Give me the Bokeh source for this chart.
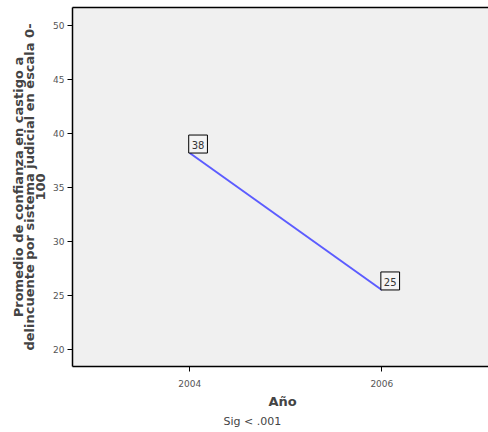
from bokeh.plotting import figure
from bokeh.models import ColumnDataSource, Label, LinearAxis, Title, FixedTicker, Range1d
from bokeh.embed import file_html
from bokeh.resources import INLINE

years = [2004, 2006]
values = [38.2, 25.5]
value_labels = ["38", "25"]
y_ticks = [20, 25, 30, 35, 40, 45, 50]
x_ticks = [2004, 2006]

src = ColumnDataSource(dict(x=years, y=values, t=value_labels))

p = figure(width=488, height=432, output_backend="svg", toolbar_location=None,
           x_range=Range1d(2002.78, 2007.11), y_range=Range1d(18.4, 51.7),
           min_border_left=72, min_border_right=0, min_border_top=7, min_border_bottom=66)
p.background_fill_color = "#f0f0f0"
p.border_fill_color = "white"
p.outline_line_color = None
p.grid.visible = False

p.line("x", "y", source=src, line_color="#5c5cff", line_width=2)
for xv, yv, tv in zip(years, values, value_labels):
    p.add_layout(Label(x=xv, y=yv, text=tv, text_align="left", text_baseline="bottom",
                       text_font="DejaVu Sans", text_font_size="10px", text_color="#333333",
                       x_offset=-1, y_offset=0,
                       padding=dict(left=3, right=3, top=6, bottom=4),
                       border_line_color="black", border_line_width=1,
                       background_fill_color="#f4f4f4"))

for ax in (p.xaxis[0], p.yaxis[0]):
    ax.axis_line_color = "black"
    ax.axis_line_width = 1.5
    ax.major_tick_line_color = "black"
    ax.major_tick_in = 0
    ax.major_tick_out = 5
    ax.minor_tick_line_color = None
    ax.major_label_text_font = "DejaVu Sans"
    ax.major_label_text_font_size = "9px"
    ax.major_label_text_color = "#555555"

p.yaxis[0].ticker = FixedTicker(ticks=y_ticks)
p.xaxis[0].ticker = FixedTicker(ticks=x_ticks)
p.yaxis[0].major_label_standoff = 3
p.xaxis[0].major_label_standoff = 8

p.yaxis[0].axis_label = "Promedio de confianza en castigo a\ndelincuente por sistema judicial en escala 0-\n100"
p.yaxis[0].axis_label_text_font = "DejaVu Sans"
p.yaxis[0].axis_label_text_font_style = "bold"
p.yaxis[0].axis_label_text_font_size = "13px"
p.yaxis[0].axis_label_text_line_height = 0.75
p.yaxis[0].axis_label_standoff = 2

top = LinearAxis(ticker=FixedTicker(ticks=[]), major_tick_line_color=None,
                 minor_tick_line_color=None, axis_line_color="black", axis_line_width=1.5,
                 major_tick_out=0, major_label_standoff=0)
p.add_layout(top, "above")

t_ano = Title(text="Año", align="left", offset=196, text_font="DejaVu Sans",
              text_font_style="bold", text_font_size="13px", standoff=4)
t_sig = Title(text="Sig < .001", align="left", offset=151, text_font="DejaVu Sans",
              text_font_style="normal", text_font_size="11px", standoff=4)
p.add_layout(t_ano, "below")
p.add_layout(t_sig, "below")

open("out.html", "w").write(file_html(p, INLINE))
